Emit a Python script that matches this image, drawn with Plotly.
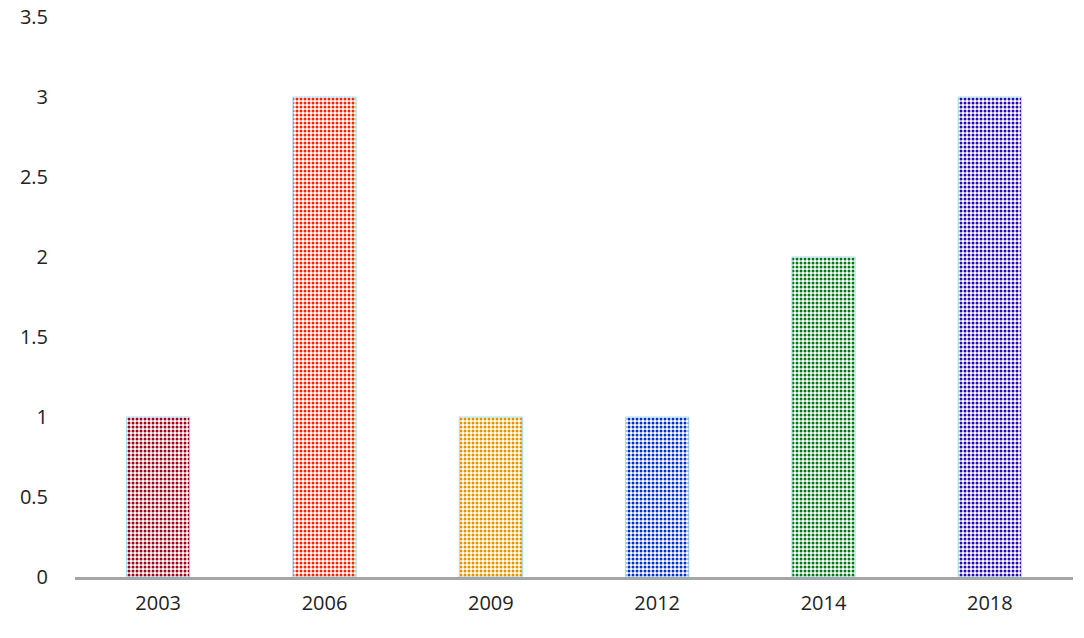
import plotly.graph_objects as go

years = ["2003", "2006", "2009", "2012", "2014", "2018"]
counts = [1, 3, 1, 1, 2, 3]
colors = ["#a00018", "#f02800", "#e89000", "#0030c8", "#007818", "#2808b0"]

fig = go.Figure(go.Bar(
    x=years, y=counts,
    marker=dict(
        color="white",
        pattern=dict(shape=".", fgcolor=colors, bgcolor="white", size=4,
                     solidity=0.45, fillmode="replace", fgopacity=1),
        line=dict(color="#a8dcef", width=1),
    ),
))
fig.update_layout(
    width=1084, height=638,
    margin=dict(l=75, r=11, t=17, b=61, autoexpand=False),
    paper_bgcolor="white", plot_bgcolor="white",
    bargap=0.62, showlegend=False,
    font=dict(family="Open Sans", size=20, color="#222"),
)
fig.update_xaxes(showline=True, linecolor="#a6a6a6", linewidth=3, showgrid=False,
                 ticks="", ticklabelstandoff=6, automargin=False)
fig.update_yaxes(range=[0, 3.5], dtick=0.5, showgrid=False, zeroline=False,
                 showline=False, ticks="", ticklabelstandoff=26, tickformat="~g",
                 automargin=False, ticklabeloverflow="allow")
fig.write_html("out.html", config={"displayModeBar": False},
               post_script="document.body.style.margin='0';")
